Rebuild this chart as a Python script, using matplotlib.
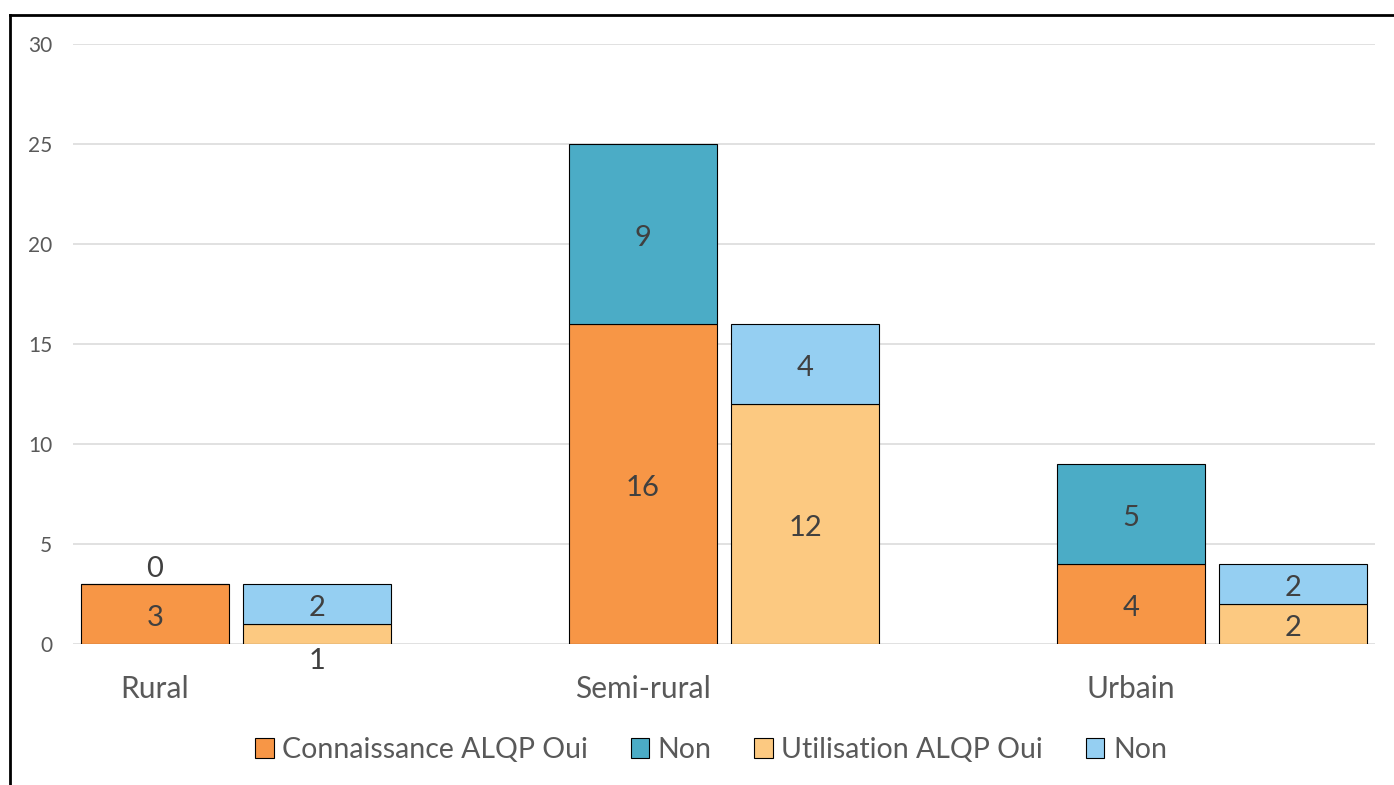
import numpy as np
import matplotlib.pyplot as plt
from matplotlib.lines import Line2D
from matplotlib.patches import Patch

plt.rcParams['font.family'] = ['Lato', 'DejaVu Sans']

# data
categories = ["Rural", "Semi-rural", "Urbain"]
connaissance_oui = [3, 16, 4]
connaissance_non = [0, 9, 5]
utilisation_oui = [1, 12, 2]
utilisation_non = [2, 4, 2]
legend_labels = ["Connaissance ALQP Oui", "Non", "Utilisation ALQP Oui", "Non"]

c_orange = "#F79646"
c_teal = "#4BACC6"
c_lorange = "#FCC981"
c_lblue = "#95CFF2"
txt_dark = "#404040"
txt_grey = "#595959"

fig = plt.figure(figsize=(13.94, 7.85), dpi=100)
ax = fig.add_axes([73 / 1394, 1 - 644 / 785, (1375 - 73) / 1394, 600 / 785])

x = np.arange(len(categories))
offset = 0.332
width = 0.303

ax.bar(x, connaissance_oui, width, color=c_orange, edgecolor="black", linewidth=0.8, zorder=3)
ax.bar(x, connaissance_non, width, bottom=connaissance_oui, color=c_teal, edgecolor="black", linewidth=0.8, zorder=3)
ax.bar(x + offset, utilisation_oui, width, color=c_lorange, edgecolor="black", linewidth=0.8, zorder=3)
ax.bar(x + offset, utilisation_non, width, bottom=utilisation_oui, color=c_lblue, edgecolor="black", linewidth=0.8, zorder=3)


def put_label(xv, yv, val):
    ax.annotate(str(val), (xv, yv), xytext=(0, -2.6), textcoords="offset points",
                ha="center", va="center", fontsize=21, color=txt_dark, zorder=4,
                annotation_clip=False)


for i in range(len(categories)):
    a, b = connaissance_oui[i], connaissance_non[i]
    put_label(x[i], a / 2, a)
    if b == 0:
        put_label(x[i], a + 0.95, b)
    else:
        put_label(x[i], a + b / 2, b)
    c, d = utilisation_oui[i], utilisation_non[i]
    if c == 1:
        # small segment: label drawn under the axis, as in the original
        put_label(x[i] + offset, -0.65, c)
    else:
        put_label(x[i] + offset, c / 2, c)
    put_label(x[i] + offset, c + d / 2, d)

ax.set_xlim((73 - 155) / 488, (1375 - 155) / 488)
ax.set_ylim(0, 30)
ax.set_yticks(range(0, 31, 5))
ax.set_xticks(x)
ax.set_xticklabels(categories)
ax.tick_params(axis="y", length=0, pad=15, labelsize=15, labelcolor=txt_grey)
ax.tick_params(axis="x", length=0, pad=22, labelsize=21.5, labelcolor=txt_grey)
ax.grid(axis="y", color="#D9D9D9", linewidth=1.1, zorder=0)
ax.set_axisbelow(True)
for s in ax.spines.values():
    s.set_visible(False)

handles = [Patch(facecolor=c, edgecolor="black", linewidth=0.8) for c in [c_orange, c_teal, c_lorange, c_lblue]]
fig.legend(handles, legend_labels, loc="center", bbox_to_anchor=(711 / 1394, 1 - 750 / 785), ncol=4,
           frameon=False, fontsize=20.5, labelcolor=txt_grey, handlelength=0.65, handleheight=0.65,
           handletextpad=0.3, columnspacing=1.5)

# partial frame from the original screenshot
fig.add_artist(Line2D([10 / 1394, 10 / 1394], [0, 1 - 14.5 / 785], color="black", linewidth=2, transform=fig.transFigure))
fig.add_artist(Line2D([10 / 1394, 1], [1 - 14.5 / 785, 1 - 14.5 / 785], color="black", linewidth=2, transform=fig.transFigure))

fig.savefig("out.png", dpi=100)
